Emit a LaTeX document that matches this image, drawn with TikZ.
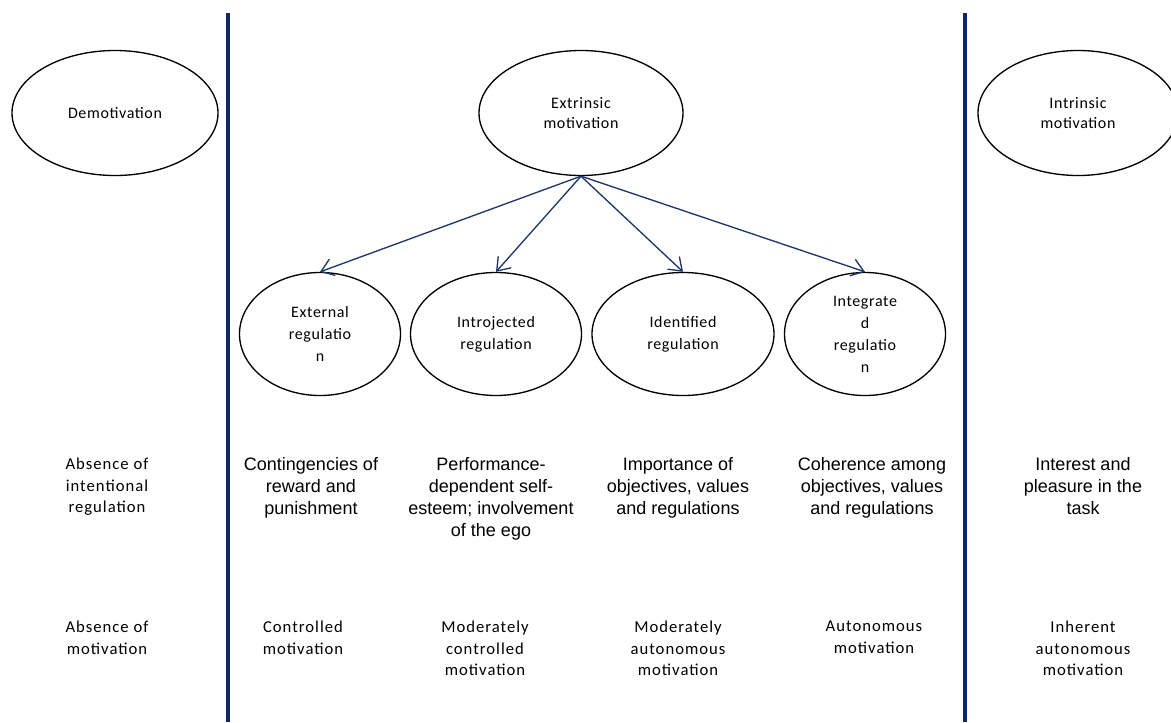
\documentclass[tikz,border=0pt]{standalone}
\usepackage{fontspec}
\setmainfont[LetterSpace=6]{Carlito}
\newfontfamily\ellipsefont[LetterSpace=4]{Carlito}
\newfontfamily\arialfont{Liberation Sans}
\usetikzlibrary{shapes.geometric, arrows.meta, positioning}
\definecolor{darknavy}{RGB}{14,40,101}
\definecolor{arrownavy}{RGB}{30,55,105}

\begin{document}
\begin{tikzpicture}[x=0.75pt, y=-0.75pt, font={\fontsize{12.5}{16}\selectfont},
    motiv/.style={draw, ellipse, line width=1pt, inner sep=0pt, align=center, minimum height=93.75pt, font={\ellipsefont\fontsize{12}{15.5}\selectfont}},
    regul/.style={motiv, minimum height=92.25pt, font={\ellipsefont\fontsize{12}{16.5}\selectfont}},
    calibtext/.style={align=center, anchor=north, inner sep=0pt},
    arialtext/.style={calibtext, font={\arialfont\fontsize{13.5}{16.5}\selectfont}},
    sepline/.style={darknavy, line width=3pt},
    arrowline/.style={arrownavy, line width=1pt, -{Straight Barb[length=9pt,width=13pt]}}]
    \useasboundingbox (0,0) rectangle (1171,722);
    % Separators between the three kinds of motivation
    \draw[sepline] (228,13) -- (228,722);
    \draw[sepline] (965,13) -- (965,722);
    % Top ellipses
    \node (demotivation) [motiv, minimum width=154.5pt] at (115,113) {Demotivation};
    \node (extrinsic) [motiv, minimum width=153pt] at (581,113) {Extrinsic\\motivation};
    \node (intrinsic) [motiv, minimum width=150pt] at (1078,113) {Intrinsic\\motivation};
    % Types of regulation
    \node (external) [regul, minimum width=120.75pt] at (320,334) {External\\regulatio\\n};
    \node (introjected) [regul, minimum width=128.25pt] at (496,334) {Introjected\\regulation};
    \node (identified) [regul, minimum width=136.5pt] at (683,334) {Identified\\regulation};
    \node (integrated) [regul, minimum width=120.75pt] at (865,334) {Integrate\\d\\regulatio\\n};
    % Arrows from extrinsic motivation
    \draw[arrowline] (extrinsic.south) -- (external.north);
    \draw[arrowline] (extrinsic.south) -- (introjected.north);
    \draw[arrowline] (extrinsic.south) -- (identified.north);
    \draw[arrowline] (extrinsic.south) -- (integrated.north);
    % First row of descriptions
    \node (noregulation) [calibtext] at (107,458) {Absence of\\intentional\\regulation};
    \node (contingencies) [arialtext] at (311,457) {Contingencies of\\reward and\\punishment};
    \node (performance) [arialtext] at (491,457) {Performance-\\dependent self-\\esteem; involvement\\of the ego};
    \node (importance) [arialtext] at (678,457) {Importance of\\objectives, values\\and regulations};
    \node (coherence) [arialtext] at (872,457) {Coherence among\\objectives, values\\and regulations};
    \node (interest) [arialtext] at (1083,457) {Interest and\\pleasure in the\\task};
    % Second row of descriptions
    \node (nomotivation) [calibtext] at (107,621) {Absence of\\motivation};
    \node (controlled) [calibtext] at (303,621) {Controlled\\motivation};
    \node (modcontrolled) [calibtext] at (485,621) {Moderately\\controlled\\motivation};
    \node (modautonomous) [calibtext] at (678,621) {Moderately\\autonomous\\motivation};
    \node (autonomous) [calibtext] at (874,621) {Autonomous\\motivation};
    \node (inherent) [calibtext] at (1083,621) {Inherent\\autonomous\\motivation};
\end{tikzpicture}
\end{document}
